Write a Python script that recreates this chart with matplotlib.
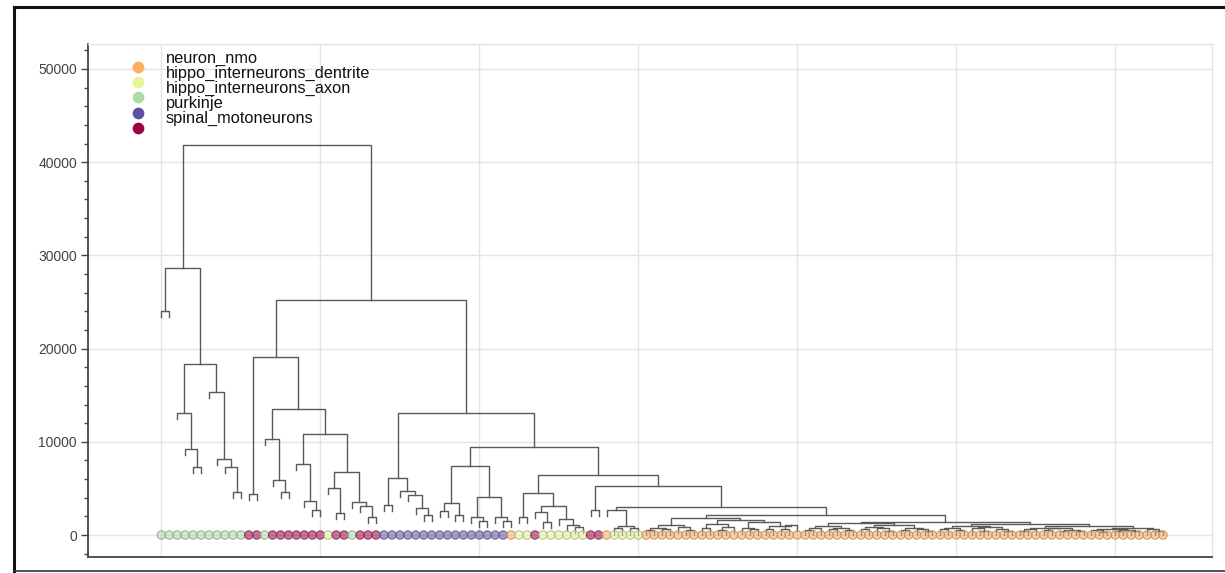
import matplotlib
matplotlib.use("Agg")
import matplotlib.pyplot as plt
from matplotlib.colors import to_rgb

class_names = ["neuron_nmo", "hippo_interneurons_dentrite", "hippo_interneurons_axon",
               "purkinje", "spinal_motoneurons"]
class_colors = ["#fdae61", "#e6f598", "#abdda4", "#5e4fa2", "#9e0142"]

# leaf classes from left to right: (class index, run length)
leaf_runs = [(2, 11), (4, 2), (2, 1), (4, 7), (1, 1), (4, 2), (2, 1), (4, 3), (3, 16),
             (0, 1), (1, 2), (4, 1), (1, 6), (4, 2), (0, 1), (1, 4), (0, 66)]

# merges as [height, left, right]; ints are leaf positions
green_block = [28650, [24050, 0, 1],
               [18350, [13100, 2, [9200, 3, [7300, 4, 5]]],
                       [15350, 6, [8150, 7, [7300, 8, [4600, 9, 10]]]]]]

motor_block = [19100, [4400, 11, 12],
               [13500, [10300, 13, [5900, 14, [4600, 15, 16]]],
                       [10850, [7600, 17, [3650, 18, [2700, 19, 20]]],
                               [6750, [5050, 21, [2350, 22, 23]],
                                      [3550, 24, [3100, 25, [1950, 26, 27]]]]]]]

purkinje_block = [6100, [3200, 28, 29], [4750, 30, [4300, 31, [2900, 32, [2150, 33, 34]]]]]

mixed_block = [7400, [3450, [2600, 35, 36], [2150, 37, 38]],
               [4050, [1900, 39, [1500, 40, 41]], [1900, 42, [1500, 43, 44]]]]

yellow_block = [4500, [1900, 45, 46],
                [3100, [2450, 47, [1400, 48, 49]], [1700, 50, [1100, 51, [850, 52, 53]]]]]

nmo_left = [1800,
            [1100, [800, [500, 61, 62], [600, 63, 64]], [900, 65, [550, 66, 67]]],
            [1600, [1200, [700, 68, 69], [900, [500, 70, 71], 72]],
                   [1400, [800, 73, [600, 74, 75]], [1000, [650, 76, 77], [1100, [600, 78, 79], 80]]]]]

nmo_right = [1400,
             [1300, [1000, [700, [500, 81, 82], 83], [800, [600, 84, 85], [500, 86, 87]]],
                    [1100, [900, [600, 88, 89], [700, 90, [400, 91, 92]]],
                           [800, [500, 93, 94], [650, 95, [450, 96, 97]]]]],
             [1200, [1000, [800, [600, 98, 99], [500, 100, 101]],
                           [900, [700, 102, [450, 103, 104]], [600, 105, [400, 106, 107]]]],
                    [1000, [800, [600, [450, 108, 109], 110],
                                 [700, [500, 111, 112], [550, [400, 113, 114], [450, 115, 116]]]],
                           [800, [650, [500, 117, [350, 118, 119]], [550, [400, 120, 121], [450, 122, 123]]],
                                 [600, 124, [400, 125, 126]]]]]]

nmo_block = [3000, [2700, 56, [950, [700, 57, 58], [700, 59, 60]]], [2150, nmo_left, nmo_right]]

tree = [41850, green_block,
        [25200, motor_block,
         [13100, purkinje_block,
          [9450, mixed_block,
           [6450, yellow_block, [5250, [2700, 54, 55], nmo_block]]]]]]

leaf_class = []
for c, n in leaf_runs:
    leaf_class += [c] * n

LEG = 650
segments = []


def layout(node):
    if isinstance(node, int):
        return node, None
    h, a, b = node
    xa, ha = layout(a)
    xb, hb = layout(b)
    ya = ha if ha is not None else max(h - LEG, 0)
    yb = hb if hb is not None else max(h - LEG, 0)
    segments.append(([xa, xa, xb, xb], [ya, h, h, yb]))
    return (xa + xb) / 2, h


layout(tree)

W, H = 1225, 573
fig = plt.figure(figsize=(W / 100, H / 100), dpi=100)
plt.rcParams["font.family"] = ["Liberation Sans", "DejaVu Sans"]

# notebook cell border
fig.add_artist(plt.Line2D([14 / W, 14 / W], [0, 1 - 7 / H], color="#111111", lw=2.2))
fig.add_artist(plt.Line2D([14 / W, 1], [1 - 7 / H, 1 - 7 / H], color="#111111", lw=2.2))
fig.add_artist(plt.Line2D([14 / W, 1], [2 / H, 2 / H], color="#333333", lw=1.2))

ax = fig.add_axes([88 / W, (H - 557) / H, (1212 - 88) / W, (557 - 44) / H])

for xs, ys in segments:
    ax.plot(xs, ys, color="#5a5a5a", lw=1.0, zorder=2)

face = [to_rgb(class_colors[c]) + (0.55,) for c in leaf_class]
edge = [tuple(0.55 * v + 0.45 * 0.45 for v in to_rgb(class_colors[c])) + (0.9,)
        for c in leaf_class]
xs = list(range(len(leaf_class)))
ax.scatter(xs, [0] * len(xs), s=36, zorder=3, facecolor=face, edgecolor=edge,
           linewidths=0.8)

ax.set_xlim(-9.22, 132.16)
ax.set_ylim(-2360, 52680)
ax.set_xticks(range(0, 121, 20))
ax.set_yticks(range(0, 50001, 10000))
ax.set_yticks(range(-2000, 52001, 2000), minor=True)
ax.set_yticklabels([str(v) for v in range(0, 50001, 10000)])
ax.tick_params(axis="x", length=0, labelbottom=False)
ax.tick_params(axis="y", which="major", length=5, width=1, color="#444444",
               labelsize=10, labelcolor="#444444", pad=3)
ax.tick_params(axis="y", which="minor", length=3, width=1, color="#444444")
ax.grid(True, color="#e4e4e4", lw=1, zorder=0)
ax.set_axisbelow(True)
for side in ["left", "bottom"]:
    ax.spines[side].set_color("#444444")
    ax.spines[side].set_linewidth(1.3)
for side in ["top", "right"]:
    ax.spines[side].set_color("#e4e4e4")
    ax.spines[side].set_linewidth(1)

for k, (name, col) in enumerate(zip(class_names, class_colors)):
    ax.scatter([0.0445], [0.955 - 0.0296 * k], transform=ax.transAxes, s=55,
               color=col, zorder=4, clip_on=False)
    ax.text(0.0694, 0.9727 - 0.0296 * k, name, transform=ax.transAxes,
            va="center", ha="left", fontsize=11.8, color="#111111")

fig.savefig("out.png", dpi=100)
